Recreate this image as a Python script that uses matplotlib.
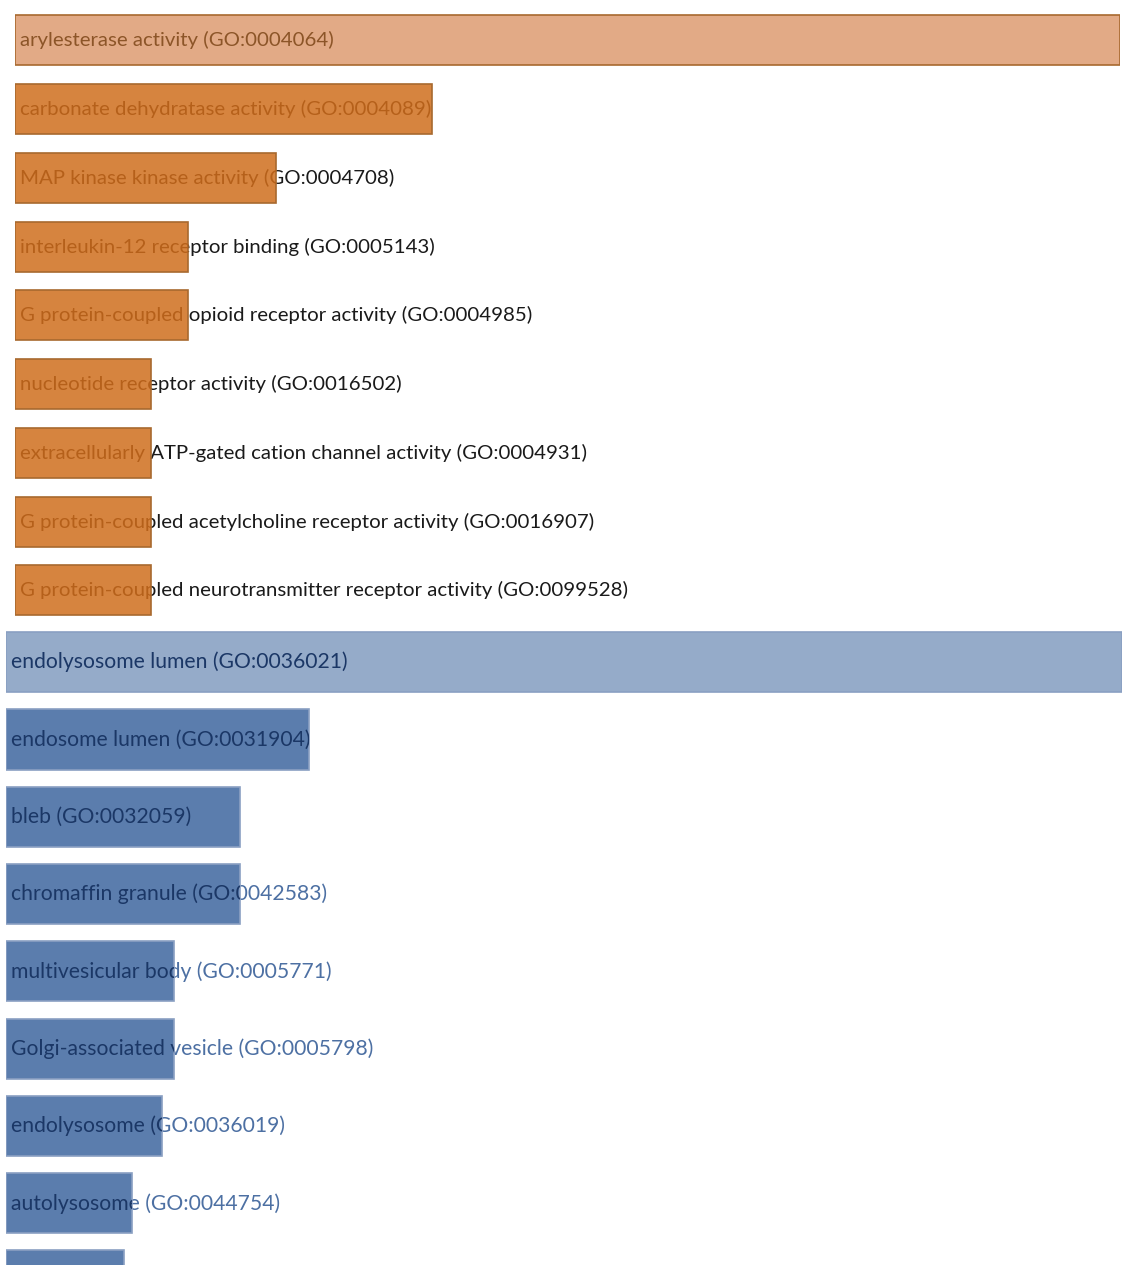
import matplotlib
matplotlib.use('Agg')
import matplotlib.pyplot as plt

# GO molecular function terms (orange panel)
mf_terms = [
    'arylesterase activity (GO:0004064)',
    'carbonate dehydratase activity (GO:0004089)',
    'MAP kinase kinase activity (GO:0004708)',
    'interleukin-12 receptor binding (GO:0005143)',
    'G protein-coupled opioid receptor activity (GO:0004985)',
    'nucleotide receptor activity (GO:0016502)',
    'extracellularly ATP-gated cation channel activity (GO:0004931)',
    'G protein-coupled acetylcholine receptor activity (GO:0016907)',
    'G protein-coupled neurotransmitter receptor activity (GO:0099528)',
]
mf_values = [81.3, 30.7, 19.2, 12.7, 12.7, 10.0, 10.0, 10.0, 10.0]

# GO cellular component terms (blue panel), last bar is cut off at the bottom
cc_terms = [
    'endolysosome lumen (GO:0036021)',
    'endosome lumen (GO:0031904)',
    'bleb (GO:0032059)',
    'chromaffin granule (GO:0042583)',
    'multivesicular body (GO:0005771)',
    'Golgi-associated vesicle (GO:0005798)',
    'endolysosome (GO:0036019)',
    'autolysosome (GO:0044754)',
    '',
]
cc_values = [94.6, 25.7, 19.8, 19.8, 14.2, 14.2, 13.2, 10.7, 10.0]

W, H = 1122, 1265
fig = plt.figure(figsize=(W / 100, H / 100), dpi=100)
fig.patch.set_facecolor('white')


def panel(left, right, top, pitch, terms, values, fill, hi_fill, edge,
          in_col, hi_col, out_col, height, fsize):
    n = len(terms)
    ax = fig.add_axes([left / W, 1 - (top + n * pitch) / H,
                       (right - left) / W, n * pitch / H])
    ax.set_xlim(0, max(values))
    ax.set_ylim(n - 0.5, -0.5)
    ax.axis('off')
    for i, (t, v) in enumerate(zip(terms, values)):
        c = hi_fill if i == 0 else fill
        # text outside the bar
        ax.annotate(t, xy=(0, i), xytext=(5, 0), textcoords='offset pixels',
                    va='center', ha='left', fontsize=fsize, color=out_col,
                    family=['Lato', 'DejaVu Sans'], zorder=1,
                    annotation_clip=False)
        bar = ax.barh(i, v, height=height, color=c, edgecolor=edge,
                      linewidth=1.2, zorder=2)[0]
        # same text inside the bar, clipped to it
        txt = ax.annotate(t, xy=(0, i), xytext=(5, 0), textcoords='offset pixels',
                          va='center', ha='left', fontsize=fsize,
                          color=hi_col if i == 0 else in_col,
                          family=['Lato', 'DejaVu Sans'], zorder=3,
                          annotation_clip=False)
        txt.set_clip_path(bar)
    return ax


panel(15, 1120, 6, 68.75, mf_terms, mf_values,
      '#D6843F', '#E2AA86', '#A8692F',
      '#B5601A', '#8C5528', '#1A1A1A', 0.73, 14.7)

panel(6, 1122, 623.5, 77.3, cc_terms, cc_values,
      '#5B7DAD', '#95ABC9', '#8A9FC2',
      '#1B3766', '#1B3766', '#4D70A3', 0.78, 15.2)

fig.savefig('out.png', dpi=100)
